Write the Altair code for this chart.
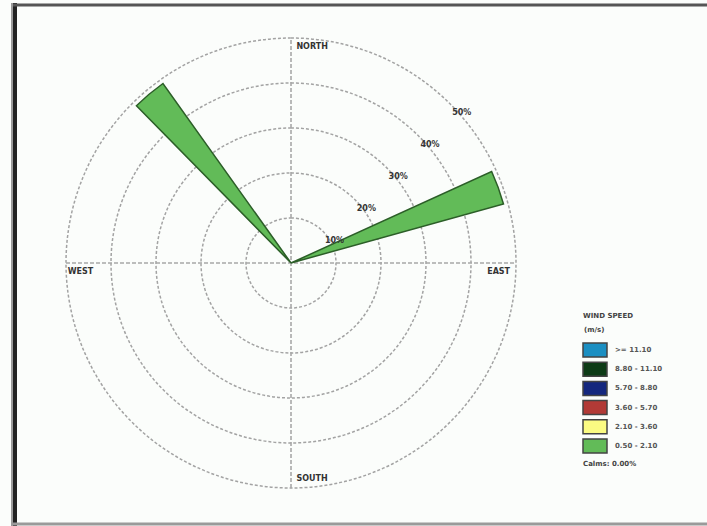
import altair as alt
import pandas as pd

# ---- data ----
directions = [320, 70]            # degrees from north
freqs = [49.0, 49.0]              # percent
speed_class = ["0.50 - 2.10", "0.50 - 2.10"]

rings = [10, 20, 30, 40, 50]
ring_labels = ["10%", "20%", "30%", "40%", "50%"]

compass_text = ["NORTH", "EAST", "SOUTH", "WEST"]
compass_dirs = [0, 90, 180, 270]

legend_labels = [">= 11.10", "8.80 - 11.10", "5.70 - 8.80", "3.60 - 5.70", "2.10 - 3.60", "0.50 - 2.10"]
legend_colors = ["#1b8fc2", "#0d3b16", "#14277e", "#b23a36", "#fbfb82", "#62bb58"]
legend_title = ["WIND SPEED", "(m/s)"]
calms_text = "Calms: 0.00%"

# ---- scales (pixel layout: centre at 291,263 ; 4.5 px per percent) ----
PX = 4.5
xs = alt.Scale(domain=[-291 / PX, (707 - 291) / PX], range=[0, 707], nice=False, zero=False)
ys = alt.Scale(domain=[-(526 - 263) / PX, 263 / PX], range=[526, 0], nice=False, zero=False)
ths = alt.Scale(domain=[0, 360], range=[0, 6.283185307179586])
rs = alt.Scale(type="linear", domain=[0, 50], range=[0, 50 * PX], zero=True)

def X(f):
    return alt.X(f, type="quantitative", scale=xs, axis=None)

def Y(f):
    return alt.Y(f, type="quantitative", scale=ys, axis=None)

wind = pd.DataFrame({"dir": directions, "freq": freqs, "cls": speed_class})
ring_df = pd.DataFrame({"r": rings, "lab": ring_labels})
comp_df = pd.DataFrame({"txt": compass_text, "dir": compass_dirs})
leg_df = pd.DataFrame({"lab": legend_labels, "col": legend_colors})

# rings
ring_layer = alt.Chart(ring_df).mark_arc(
    filled=False, stroke="#a3a3a3", strokeWidth=1.5, strokeDash=[3, 2]
).transform_calculate(c0="0", t0="0", t1="360").encode(
    x=X("c0:Q"), y=Y("c0:Q"),
    theta=alt.Theta("t0:Q", scale=ths, stack=None), theta2="t1:Q",
    radius=alt.Radius("r:Q", scale=rs),
)

# axis cross lines
hline = alt.Chart(ring_df).mark_rule(color="#a8a8a8", strokeWidth=1.6, strokeDash=[4, 2]).transform_aggregate(
    m="max(r)"
).transform_calculate(a="-datum.m", z="0").encode(x=X("a:Q"), x2="m:Q", y=Y("z:Q"))
vline = alt.Chart(ring_df).mark_rule(color="#a8a8a8", strokeWidth=1.6, strokeDash=[4, 2]).transform_aggregate(
    m="max(r)"
).transform_calculate(a="-datum.m", z="0").encode(y=Y("a:Q"), y2="m:Q", x=X("z:Q"))

# wedges
wedges = alt.Chart(wind).mark_arc(stroke="#2c5e28", strokeWidth=1.5, strokeJoin="miter").transform_calculate(
    c0="0", t0="datum.dir - 4.5", t1="datum.dir + 4.5"
).encode(
    x=X("c0:Q"), y=Y("c0:Q"),
    theta=alt.Theta("t0:Q", scale=ths, stack=None), theta2="t1:Q",
    radius=alt.Radius("freq:Q", scale=rs),
    fill=alt.Fill("cls:N", scale=alt.Scale(domain=legend_labels, range=legend_colors), legend=None),
)

# ring labels
ring_text = alt.Chart(ring_df).mark_text(
    font="DejaVu Sans", fontSize=8, fontWeight="bold", color="#333333", align="center", baseline="middle"
).transform_calculate(
    lx="datum.r * 0.7071 + 2.6", ly="datum.r * 0.7071 - 2.1"
).encode(x=X("lx:Q"), y=Y("ly:Q"), text="lab:N")

# compass labels
comp_text = alt.Chart(comp_df).mark_text(
    font="DejaVu Sans", fontSize=8, fontWeight="bold", color="#333333", align="left", baseline="middle"
).transform_calculate(
    lx="datum.dir == 90 ? 43.6 : (datum.dir == 270 ? -49.6 : 1.2)",
    ly="datum.dir == 0 ? 48 : (datum.dir == 180 ? -48 : -2)",
).encode(x=X("lx:Q"), y=Y("ly:Q"), text="txt:N")

# legend boxes
leg_boxes = alt.Chart(leg_df).mark_rect(stroke="#444444", strokeWidth=1.5).transform_window(
    i="row_number()"
).transform_calculate(
    yc="(263 - (350 + 19.2 * (datum.i - 1))) / 4.5",
    ya="datum.yc + 7 / 4.5", yb="datum.yc - 7 / 4.5",
    xa="(583 - 291) / 4.5", xb="(607 - 291) / 4.5",
).encode(
    x=X("xa:Q"), x2="xb:Q", y=Y("ya:Q"), y2="yb:Q",
    fill=alt.Fill("col:N", scale=None),
)
leg_labels = alt.Chart(leg_df).mark_text(
    font="DejaVu Sans", fontSize=7, fontWeight="bold", color="#555555", align="left", baseline="middle"
).transform_window(i="row_number()").transform_calculate(
    yc="(263 - (350 + 19.2 * (datum.i - 1))) / 4.5", xa="(615 - 291) / 4.5"
).encode(x=X("xa:Q"), y=Y("yc:Q"), text="lab:N")

title1 = alt.Chart(pd.DataFrame({"t": [legend_title[0]]})).mark_text(
    font="DejaVu Sans", fontSize=7, fontWeight="bold", color="#444444", align="left", baseline="middle"
).encode(x=alt.value(583), y=alt.value(316), text="t:N")
title2 = alt.Chart(pd.DataFrame({"t": [legend_title[1]]})).mark_text(
    font="DejaVu Sans", fontSize=7, fontWeight="bold", color="#444444", align="left", baseline="middle"
).encode(x=alt.value(584), y=alt.value(330), text="t:N")
calms = alt.Chart(pd.DataFrame({"t": [calms_text]})).mark_text(
    font="DejaVu Sans", fontSize=7, fontWeight="bold", color="#444444", align="left", baseline="middle"
).encode(x=alt.value(583), y=alt.value(464), text="t:N")

# scanned frame edges
frame_df = pd.DataFrame({"k": [0]})
left_edge = alt.Chart(frame_df).mark_rule(color="#222222", strokeWidth=4).encode(
    x=alt.value(15), y=alt.value(3), y2=alt.value(526))
left_edge2 = alt.Chart(frame_df).mark_rule(color="#9a9a9a", strokeWidth=2).encode(
    x=alt.value(12), y=alt.value(3), y2=alt.value(526))
top_edge = alt.Chart(frame_df).mark_rule(color="#555555", strokeWidth=3).encode(
    x=alt.value(13), x2=alt.value(707), y=alt.value(5))
bottom_edge = alt.Chart(frame_df).mark_rule(color="#9a9a9a", strokeWidth=3).encode(
    x=alt.value(13), x2=alt.value(707), y=alt.value(524))

chart = alt.layer(
    ring_layer, hline, vline, wedges, ring_text, comp_text,
    leg_boxes, leg_labels, title1, title2, calms,
    left_edge, left_edge2, top_edge, bottom_edge,
).properties(
    width=707, height=526, autosize=alt.AutoSizeParams(type="none"), padding=0, background="#fbfdfb"
).configure_view(stroke=None)

chart.save("out.html", embed_options={"renderer": "svg", "actions": False})
